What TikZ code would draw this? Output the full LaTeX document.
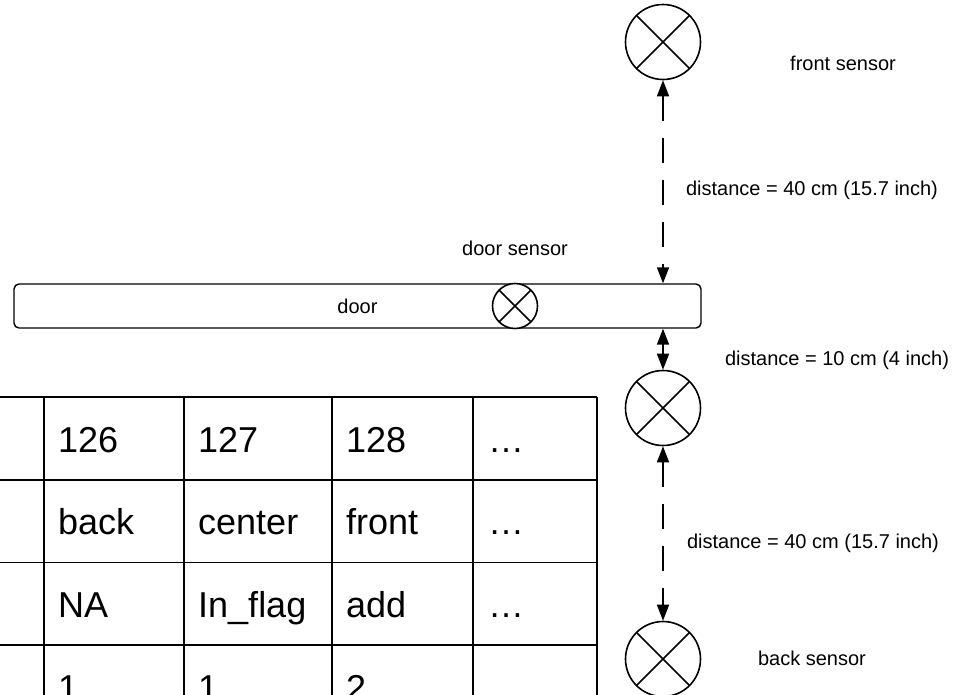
\documentclass[tikz,border=0pt]{standalone}
\usepackage{fontspec}
\setmainfont{Liberation Sans}
\usetikzlibrary{arrows.meta}
\begin{document}
\begin{tikzpicture}[x=1pt,y=-1pt,
  sensor/.style={circle, draw, line width=1.6pt, inner sep=0pt, minimum size=#1,
    path picture={\draw[line width=1.6pt]
      (path picture bounding box.north west) -- (path picture bounding box.south east)
      (path picture bounding box.north east) -- (path picture bounding box.south west);}},
  sensor/.default=75pt,
  smalltxt/.style={font=\fontsize{20}{24}\selectfont, inner sep=0pt},
  celltxt/.style={font=\fontsize{36}{43}\selectfont, inner sep=0pt, anchor=base west},
  dimline/.style={line width=1.6pt, dash pattern=on 25pt off 17pt,
    {Triangle[length=16pt,width=12pt]}-{Triangle[length=16pt,width=12pt]}},
  tabline/.style={line width=1.6pt},
  doorbox/.style={draw, line width=1.4pt, rounded corners=5pt, minimum width=687pt,
    minimum height=44pt, inner sep=0pt, font=\fontsize{20}{24}\selectfont}
]
\useasboundingbox (0,0) rectangle (955,694);

% door and sensors
\node[doorbox] (door) at (357.5,306) {door};
\node[sensor=45pt, fill=white] (ds) at (515,306) {};
\node[sensor] (front) at (663,42) {};
\node[sensor] (mid) at (663,408) {};
\node[sensor] (back) at (663,659) {};

% labels
\node[smalltxt] (lfront) at (843,63) {front sensor};
\node[smalltxt] (ldist1) at (812,190) {distance = 40 cm (15.7 inch)};
\node[smalltxt] (lds) at (515,248) {door sensor};
\node[smalltxt] (ldist2) at (837,360) {distance = 10 cm (4 inch)};
\node[smalltxt] (ldist3) at (813,543) {distance = 40 cm (15.7 inch)};
\node[smalltxt] (lback) at (812,658) {back sensor};

% dimension arrows
\draw[dimline] (front.south) -- (front.south |- door.north);
\draw[dimline] (mid.north |- door.south) -- (mid.north);
\draw[dimline] (mid.south) -- (back.north);

% table
\begin{scope}
\clip (0,0) rectangle (955,694);
\foreach \y in {397,480,562.5,645} \draw[tabline] (-5,\y) -- (597,\y);
\foreach \x in {44,184,332,473,597} \draw[tabline] (\x,397) -- (\x,700);
\node[celltxt] (c11) at (58,452) {126};
\node[celltxt] (c12) at (198,452) {127};
\node[celltxt] (c13) at (346,452) {128};
\node[celltxt] (c14) at (488,452) {…};
\node[celltxt] (c21) at (58,534) {back};
\node[celltxt] (c22) at (198,534) {center};
\node[celltxt] (c23) at (346,534) {front};
\node[celltxt] (c24) at (488,534) {…};
\node[celltxt] (c31) at (58,617) {NA};
\node[celltxt] (c32) at (198,617) {In\_flag};
\node[celltxt] (c33) at (346,617) {add};
\node[celltxt] (c34) at (488,617) {…};
\node[celltxt] (c41) at (58,700) {1};
\node[celltxt] (c42) at (198,700) {1};
\node[celltxt] (c43) at (346,700) {2};
\end{scope}
\end{tikzpicture}
\end{document}
